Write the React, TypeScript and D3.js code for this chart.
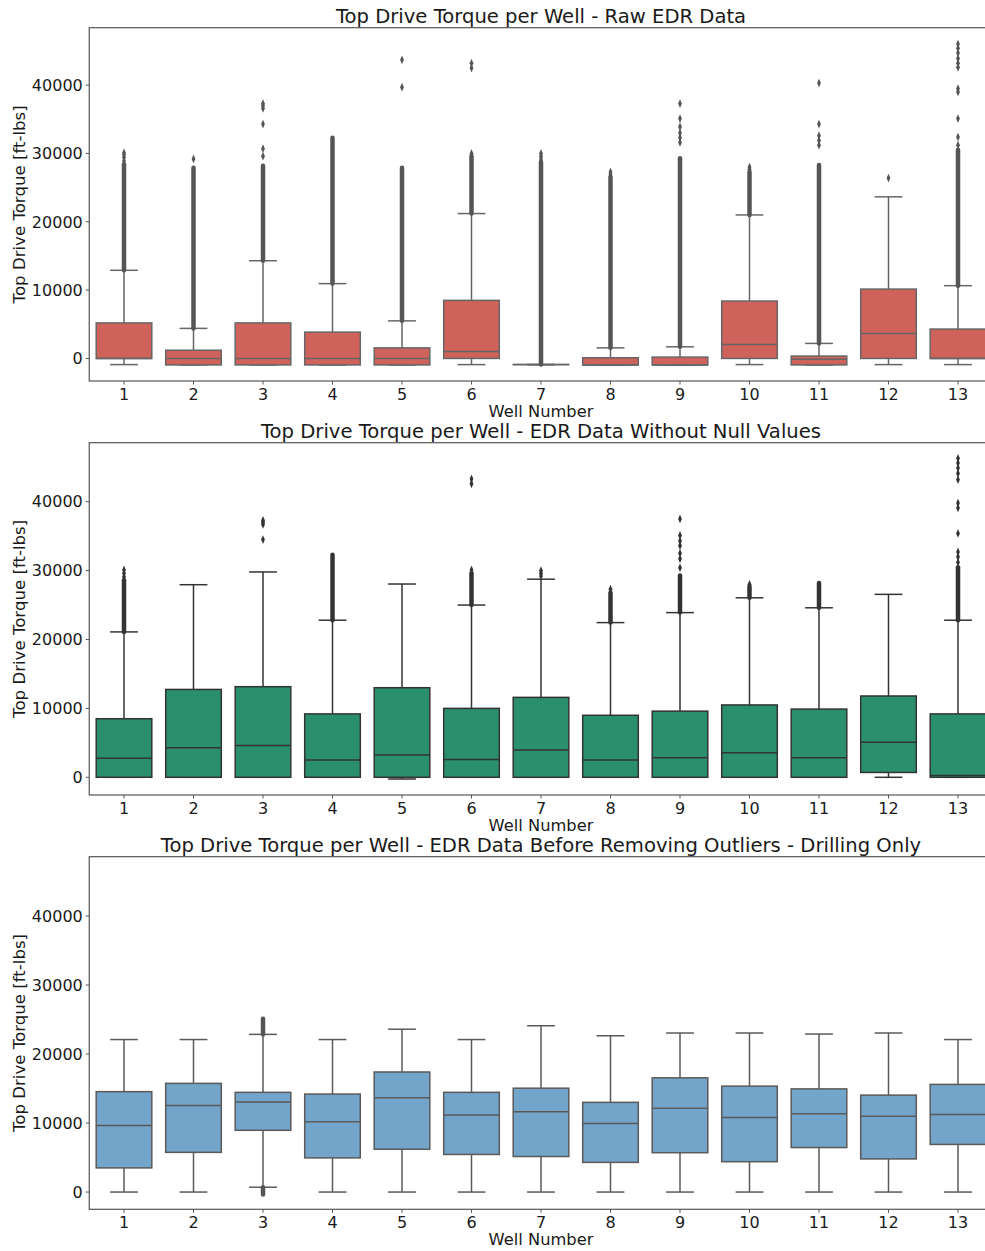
import React from "react";
import * as d3 from "d3";

// ---------- DATA ----------
const wells = ["1", "2", "3", "4", "5", "6", "7", "8", "9", "10", "11", "12", "13"];
const yTicks = [0, 10000, 20000, 30000, 40000];

const titles = [
  "Top Drive Torque per Well - Raw EDR Data",
  "Top Drive Torque per Well - EDR Data Without Null Values",
  "Top Drive Torque per Well - EDR Data Before Removing Outliers - Drilling Only",
];

// Panel 1: raw EDR data
const rawWhiskerLow = [-900, -950, -950, -950, -950, -900, -900, -950, -950, -900, -950, -900, -900];
const rawQ1 = [0, -950, -950, -950, -950, 0, -900, -950, -950, 0, -950, 0, 0];
const rawMedian = [0, 0, 0, 0, 0, 1000, -900, -950, -950, 2050, -100, 3650, 0];
const rawQ3 = [5200, 1200, 5200, 3850, 1550, 8500, -900, 100, 200, 8400, 350, 10150, 4300];
const rawWhiskerHigh = [12900, 4400, 14300, 10950, 5500, 21200, -900, 1550, 1700, 21000, 2200, 23650, 10650];
const rawDense: number[][][] = [
  [[12900, 28400]], [[4400, 27900]], [[14300, 28200]], [[10950, 32300]], [[5500, 27900]],
  [[21200, 29600]], [[-900, 28800]], [[1550, 26600]], [[1700, 29300]], [[21000, 27300]],
  [[2200, 28300]], [], [[10650, 30500]],
];
const rawFliers = [
  [28900, 29400, 29800, 30100],
  [29200],
  [29600, 30700, 34300, 36600, 37000, 37300],
  [],
  [39700, 43700],
  [30000, 42500, 43200],
  [29200, 29600, 30000],
  [27000, 27300],
  [31600, 32300, 33000, 33900, 35100, 37300],
  [27700, 28000],
  [31200, 31900, 32600, 34300, 40300],
  [26400],
  [31200, 32400, 35100, 39000, 39500, 42600, 43200, 43900, 44700, 45400, 46000],
];

// Panel 2: without null values
const nnWhiskerLow = [0, 0, 0, 0, -250, 0, 0, 0, 0, 0, 0, 0, 0];
const nnQ1 = [0, 0, 0, 0, 0, 0, 0, 0, 0, 0, 0, 700, 0];
const nnMedian = [2750, 4300, 4600, 2500, 3250, 2600, 3950, 2500, 2850, 3550, 2850, 5100, 250];
const nnQ3 = [8500, 12750, 13150, 9200, 13000, 10000, 11600, 9000, 9600, 10500, 9900, 11800, 9200];
const nnWhiskerHigh = [21100, 27950, 29800, 22800, 28050, 25000, 28750, 22450, 23900, 26050, 24600, 26550, 22800];
const nnDense: number[][][] = [
  [[21100, 28600]], [], [], [[22800, 32300]], [], [[25000, 29600]], [],
  [[22450, 26800]], [[23900, 29300]], [[26050, 27700]], [[24600, 28200]], [], [[22800, 30500]],
];
const nnFliers = [
  [29100, 29600, 30100],
  [],
  [34500, 36700, 37000, 37300],
  [],
  [],
  [30100, 42600, 43300],
  [29200, 29600, 30000],
  [27300],
  [30400, 31700, 32500, 33600, 34300, 35100, 37500],
  [28000],
  [],
  [],
  [31200, 32000, 32700, 35400, 39100, 39800, 43200, 44100, 44900, 45600, 46300],
];

// Panel 3: drilling only
const drWhiskerLow = [0, 0, 700, 0, 0, 0, 0, 0, 0, 0, 0, 0, 0];
const drQ1 = [3500, 5750, 8950, 4950, 6200, 5450, 5150, 4300, 5700, 4400, 6450, 4800, 6900];
const drMedian = [9650, 12550, 13050, 10200, 13650, 11150, 11650, 9950, 12150, 10800, 11350, 11000, 11250];
const drQ3 = [14550, 15750, 14450, 14200, 17400, 14450, 15050, 13000, 16550, 15350, 14950, 14050, 15600];
const drWhiskerHigh = [22100, 22100, 22850, 22100, 23600, 22100, 24100, 22650, 23050, 23050, 22900, 23050, 22100];
const drDense: number[][][] = [
  [], [], [[22850, 25100], [-350, 700]], [], [], [], [], [], [], [], [], [], [],
];
const drFliers: number[][] = [[], [], [], [], [], [], [], [], [], [], [], [], []];

// ---------- LAYOUT / STYLE ----------
const W = 985;
const H = 1251;
const X0 = 89.25;
const X1 = 992.75;

const panels = [
  {
    top: 27.7, bottom: 381, domain: [-3300, 48400],
    fill: "#cf625a", line: "#666666", flier: "#555555",
    wl: rawWhiskerLow, q1: rawQ1, med: rawMedian, q3: rawQ3, wh: rawWhiskerHigh, dense: rawDense, fliers: rawFliers,
  },
  {
    top: 442.7, bottom: 795, domain: [-2570, 48560],
    fill: "#2a8f6c", line: "#333333", flier: "#333333",
    wl: nnWhiskerLow, q1: nnQ1, med: nnMedian, q3: nnQ3, wh: nnWhiskerHigh, dense: nnDense, fliers: nnFliers,
  },
  {
    top: 856.7, bottom: 1209.3, domain: [-2500, 48600],
    fill: "#72a5c9", line: "#5a5a5a", flier: "#555555",
    wl: drWhiskerLow, q1: drQ1, med: drMedian, q3: drQ3, wh: drWhiskerHigh, dense: drDense, fliers: drFliers,
  },
];

const FONT = "'DejaVu Sans', sans-serif";
const diamond = d3.symbol().type(d3.symbolDiamond).size(22)() as string;

function Panel({ p, title }: { p: any; title: string }) {
  const x = d3.scaleBand().domain(wells).range([X0, X1]).padding(0);
  const y = d3.scaleLinear().domain(p.domain).range([p.bottom, p.top]);
  const bw = x.bandwidth();
  const boxW = bw * 0.8;
  const capW = boxW / 2;
  const spine = "#555555";

  return (
    <g>
      <text x={(X0 + X1) / 2} y={p.top - 4.5} textAnchor="middle" fontSize={19.6} fontFamily={FONT} fill="#1a1a1a">
        {title}
      </text>
      {wells.map((w, i) => {
        const cx = (x(w) as number) + bw / 2;
        const yq1 = y(p.q1[i]);
        const yq3 = y(p.q3[i]);
        return (
          <g key={w}>
            <line x1={cx} x2={cx} y1={y(p.q3[i])} y2={y(p.wh[i])} stroke={p.line} strokeWidth={1.5} />
            <line x1={cx} x2={cx} y1={y(p.q1[i])} y2={y(p.wl[i])} stroke={p.line} strokeWidth={1.5} />
            <line x1={cx - capW / 2} x2={cx + capW / 2} y1={y(p.wh[i])} y2={y(p.wh[i])} stroke={p.line} strokeWidth={1.5} />
            <line x1={cx - capW / 2} x2={cx + capW / 2} y1={y(p.wl[i])} y2={y(p.wl[i])} stroke={p.line} strokeWidth={1.5} />
            <rect
              x={cx - boxW / 2}
              y={Math.min(yq1, yq3)}
              width={boxW}
              height={Math.max(0.01, Math.abs(yq1 - yq3))}
              fill={p.fill}
              stroke={p.line}
              strokeWidth={1.5}
            />
            <line x1={cx - boxW / 2} x2={cx + boxW / 2} y1={y(p.med[i])} y2={y(p.med[i])} stroke={p.line} strokeWidth={1.5} />
            {p.dense[i].map((r: number[], k: number) => (
              <line key={k} x1={cx} x2={cx} y1={y(r[0])} y2={y(r[1])} stroke={p.flier} strokeWidth={4.5} strokeLinecap="round" />
            ))}
            {p.fliers[i].map((v: number, k: number) => (
              <path key={k} d={diamond} transform={`translate(${cx},${y(v)}) scale(0.75,1)`} fill={p.flier} />
            ))}
          </g>
        );
      })}
      <rect x={X0} y={p.top} width={X1 - X0} height={p.bottom - p.top} fill="none" stroke={spine} strokeWidth={1.2} />
      {yTicks.map((t) => (
        <g key={t}>
          <line x1={X0 - 3.5} x2={X0} y1={y(t)} y2={y(t)} stroke={spine} strokeWidth={1} />
          <text x={X0 - 6.5} y={y(t)} dy="0.36em" textAnchor="end" fontSize={16} fontFamily={FONT} fill="#1a1a1a">
            {t}
          </text>
        </g>
      ))}
      {wells.map((w) => {
        const cx = (x(w) as number) + bw / 2;
        return (
          <g key={w}>
            <line x1={cx} x2={cx} y1={p.bottom} y2={p.bottom + 3.5} stroke={spine} strokeWidth={1} />
            <text x={cx} y={p.bottom + 19} textAnchor="middle" fontSize={16} fontFamily={FONT} fill="#1a1a1a">
              {w}
            </text>
          </g>
        );
      })}
      <text x={(X0 + X1) / 2} y={p.bottom + 36} textAnchor="middle" fontSize={16.3} fontFamily={FONT} fill="#1a1a1a">
        Well Number
      </text>
      <text
        transform={`translate(25,${(p.top + p.bottom) / 2}) rotate(-90)`}
        textAnchor="middle"
        fontSize={16.6}
        fontFamily={FONT}
        fill="#1a1a1a"
      >
        Top Drive Torque [ft-lbs]
      </text>
    </g>
  );
}

export default function App() {
  return (
    <svg
      width={W}
      height={H}
      viewBox={`0 0 ${W} ${H}`}
      style={{ position: "absolute", left: 0, top: 0, background: "#ffffff", overflow: "hidden" }}
    >
      <rect x={0} y={0} width={W} height={H} fill="#ffffff" />
      {panels.map((p, i) => (
        <Panel key={i} p={p} title={titles[i]} />
      ))}
    </svg>
  );
}
